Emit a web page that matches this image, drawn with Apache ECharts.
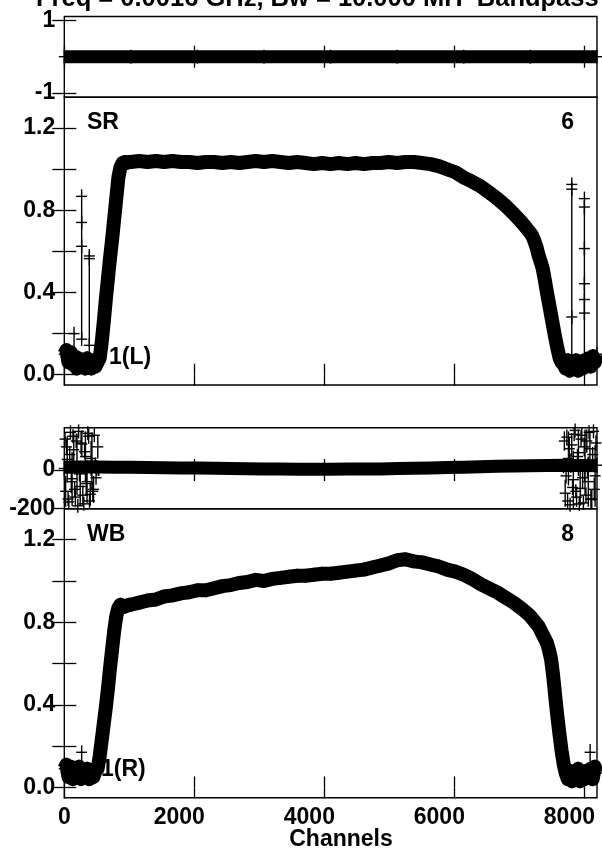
<!DOCTYPE html>
<html><head><meta charset="utf-8">
<script src="https://cdn.jsdelivr.net/npm/echarts@6/dist/echarts.min.js"></script>
<style>html,body{margin:0;padding:0;background:#fff}#c{width:602px;height:855px}</style>
</head><body><div id="c"></div>
<script>
// ---------- data ----------
const xTicks = [0, 2000, 4000, 6000, 8000];
const ampTicks = [0, 0.2, 0.4, 0.6, 0.8, 1.0, 1.2];
const ampLabels = [0, 0.4, 0.8, 1.2];
const topPhaseTicks = [-1, 1];
const wbPhaseTicks = [-200, 0];

const topCh = [0, 1024, 2048, 3072, 4096, 5120, 6144, 7168, 8192];
const topPhase = [0, 0, 0, 0, 0, 0, 0, 0, 0];

const srCh = [0,32,64,96,128,160,192,224,256,288,320,352,384,416,448,480,512,
  544,576,608,640,672,704,736,768,800,832,864,896,928,960,992,
  1024,1152,1280,1408,1536,1664,1792,1920,2048,2176,2304,2432,2560,2688,2816,2944,3072,3200,3328,3456,3584,3712,3840,3968,4096,4224,4352,4480,4608,4736,4864,4992,5120,5248,5376,5504,5632,5760,5888,6016,6144,6272,6400,6528,6656,6784,6912,7040,7168,
  7200,7232,7264,7296,7328,7360,7392,7424,7456,7488,7520,7552,7584,7616,7648,7680,
  7712,7744,7776,7808,7840,7872,7904,7936,7968,8000,8032,8064,8096,8128,8160,8192];
const srAmp = [0.10,0.12,0.06,0.11,0.05,0.09,0.03,0.08,0.04,0.07,0.03,0.08,0.04,0.03,0.07,0.04,0.06,
  0.08,0.16,0.26,0.37,0.47,0.57,0.66,0.76,0.86,0.96,1.01,1.03,1.035,1.03,1.035,
  1.035,1.04,1.035,1.04,1.035,1.04,1.035,1.035,1.03,1.035,1.035,1.03,1.035,1.03,1.035,1.04,1.035,1.04,1.035,1.03,1.035,1.03,1.025,1.03,1.025,1.03,1.025,1.03,1.025,1.03,1.03,1.035,1.03,1.035,1.035,1.03,1.025,1.015,1.0,0.985,0.96,0.94,0.918,0.888,0.858,0.823,0.783,0.74,0.69,
  0.675,0.65,0.62,0.58,0.55,0.515,0.46,0.40,0.345,0.29,0.235,0.18,0.13,0.085,0.06,0.05,
  0.03,0.07,0.02,0.06,0.03,0.07,0.02,0.06,0.03,0.07,0.04,0.08,0.04,0.09,0.06,0.10];
const srSpikeCh  = [150, 267, 267, 267, 267, 385, 385, 385, 7806, 7806, 7806, 8000, 8000, 8000, 8000, 8000, 8000];
const srSpikeVal = [0.20, 0.868, 0.741, 0.625, 0.173, 0.578, 0.565, 0.143, 0.926, 0.903, 0.281, 0.857, 0.816, 0.614, 0.443, 0.366, 0.30];
const srSpikeLo  = [0.13, 0.168, 0.741, 0.625, 0.173, 0.135, 0.565, 0.143, 0.087, 0.903, 0.281, 0.10, 0.816, 0.614, 0.443, 0.366, 0.30];
const srSpikeHi  = [0.20, 0.897, 0.741, 0.625, 0.173, 0.605, 0.565, 0.143, 0.937, 0.903, 0.281, 0.88, 0.816, 0.614, 0.443, 0.366, 0.30];

const wpCh = [0,256,512,768,1024,1280,1536,1792,2048,2304,2560,2816,3072,3328,3584,3840,4096,4352,4608,4864,5120,5376,5632,5888,6144,6400,6656,6912,7168,7424,7680,7936,8192];
const wpPhase = [15,16,16,15,14,13,12,11,10,9,8,7,6,5,4,4,4,5,5,6,8,9,11,13,15,17,19,21,22,24,25,24,22];
const wpNoiseCh  = [0,12,20,33,45,58,70,83,95,108,120,133,145,158,170,183,195,208,220,233,245,258,270,285,300,312,325,338,350,362,375,388,400,412,425,438,450,462,475,488,500,515,530,
  7680,7692,7705,7718,7730,7742,7755,7768,7780,7792,7805,7818,7830,7843,7857,7868,7880,7894,7908,7922,7935,7948,7960,7972,7985,7998,8010,8024,8037,8048,8060,8072,8085,8100,8114,8127,8140,8152,8165,8178,8192];
const wpNoiseVal = [8,160,-110,120,55,-150,-165,80,195,-60,-45,175,105,-100,-140,150,30,-185,200,-20,-85,140,135,-130,-175,95,70,-70,-60,190,175,-160,-125,60,45,-110,-100,180,25,-40,10,120,5,
  20,150,-120,-30,170,-160,60,110,-180,35,130,-90,-50,185,205,-110,-140,70,90,-175,-95,160,180,-40,-170,120,40,-130,150,10,-60,195,110,-150,-150,80,200,-100,-30,140,25];
const wpNoiseErr = [40,20,80,30,120,30,30,40,20,60,140,30,90,40,50,30,160,15,15,40,100,60,70,50,20,40,130,60,110,20,40,30,60,90,150,50,70,30,40,30,40,60,20,
  30,50,70,40,40,30,140,60,20,50,60,40,150,20,15,30,50,40,120,25,90,40,30,60,25,50,170,40,60,50,130,20,90,50,50,40,20,60,160,40,40];

const wbCh = [0,32,64,96,128,160,192,224,256,288,320,352,384,416,448,480,512,
  544,576,608,640,672,704,736,768,800,832,864,896,928,960,992,
  1024,1152,1280,1408,1536,1664,1792,1920,2048,2176,2304,2432,2560,2688,2816,2944,3072,3200,3328,3456,3584,3712,3840,3968,4096,4224,4352,4480,4608,4736,4864,4992,5120,5248,5376,5504,5632,5760,5888,6016,6144,6272,6400,6528,6656,6784,6912,7040,7168,7296,7424,
  7456,7488,7520,7552,7584,7616,7648,7680,7712,
  7744,7776,7808,7840,7872,7904,7936,7968,8000,8032,8064,8096,8128,8160,8192];
const wbAmp = [0.09,0.11,0.05,0.10,0.04,0.09,0.05,0.10,0.04,0.08,0.05,0.09,0.04,0.08,0.05,0.08,0.09,
  0.15,0.23,0.31,0.39,0.48,0.58,0.67,0.76,0.83,0.87,0.885,0.88,0.875,0.88,0.885,
  0.885,0.895,0.905,0.91,0.925,0.93,0.94,0.945,0.955,0.955,0.965,0.975,0.98,0.99,0.995,1.005,1.0,1.01,1.015,1.02,1.025,1.025,1.03,1.035,1.035,1.04,1.045,1.05,1.055,1.065,1.075,1.085,1.1,1.105,1.095,1.09,1.08,1.07,1.055,1.045,1.03,1.01,0.985,0.965,0.945,0.92,0.895,0.865,0.83,0.78,0.70,
  0.665,0.62,0.54,0.44,0.345,0.26,0.18,0.115,0.07,
  0.04,0.08,0.03,0.07,0.04,0.09,0.03,0.07,0.04,0.08,0.05,0.09,0.04,0.10,0.07];
const wbSpikeCh  = [267, 8088];
const wbSpikeVal = [0.17, 0.17];
const wbSpikeLo  = [0.09, 0.08];
const wbSpikeHi  = [0.20, 0.21];

// ---------- layout ----------
const FONT = "'Liberation Sans', Arial, Helvetica, sans-serif";
const grids = [
  {left: 64.3, right: 5, top: 16.5, height: 80.8},
  {left: 64.3, right: 5, top: 97.3, height: 287.7},
  {left: 64.3, right: 5, top: 427.7, height: 81},
  {left: 64.3, right: 5, top: 508.7, height: 289}
].map(g => Object.assign(g, {show: true, borderColor: '#000', borderWidth: 1.4, backgroundColor: 'rgba(0,0,0,0)', containLabel: false, outerBoundsMode: 'none'}));

const yRanges = [[-1.12, 1.11], [-0.05, 1.35], [-200, 219], [-0.05, 1.35]];
const yTickSets = [topPhaseTicks, ampTicks, wbPhaseTicks, ampTicks];
const yLabelSets = [topPhaseTicks, ampLabels, wbPhaseTicks, ampLabels];
const yFormat = [v => String(v), v => v.toFixed(1), v => String(v), v => v.toFixed(1)];

const labelStyle = {color: '#000', fontFamily: FONT, fontWeight: 'bold', fontSize: 23};
const tickStyle = {color: '#000', width: 1.3};

const xAxis = [], yAxis = [];
for (let i = 0; i < 4; i++) {
  ['bottom', 'top'].forEach(pos => {
    xAxis.push({
      gridIndex: i, type: 'value', position: pos, min: 0, max: 8194,
      axisLine: {show: false}, splitLine: {show: false},
      axisTick: {show: true, inside: true, length: 11, lineStyle: tickStyle, customValues: xTicks},
      axisLabel: Object.assign({
        show: (i === 3 && pos === 'bottom'), margin: 8, customValues: xTicks, hideOverlap: false,
        formatter: v => (String(v).length > 1 ? '{w|' + v + '}' : '{n|' + v + '}'),
        rich: {
          n: Object.assign({}, labelStyle),
          w: Object.assign({padding: [0, 30, 0, 0]}, labelStyle)
        }
      }, labelStyle)
    });
  });
  ['left', 'right'].forEach(pos => {
    yAxis.push({
      gridIndex: i, type: 'value', position: pos, min: yRanges[i][0], max: yRanges[i][1],
      axisLine: {show: false}, splitLine: {show: false},
      axisTick: {show: true, inside: true, length: 12, lineStyle: tickStyle, customValues: yTickSets[i]},
      axisLabel: Object.assign({show: pos === 'left', margin: 9, customValues: yLabelSets[i], formatter: yFormat[i]}, labelStyle)
    });
  });
}

function plusRender(params, api) {
  const x = api.value(0), v = api.value(1), lo = api.value(2), hi = api.value(3);
  const p = api.coord([x, v]);
  const pl = api.coord([x, lo]);
  const ph = api.coord([x, hi]);
  const top = Math.min(ph[1], p[1] - 7);
  const bot = Math.max(pl[1], p[1] + 7);
  const st = {stroke: '#000', lineWidth: 1.4};
  return {type: 'group', children: [
    {type: 'line', shape: {x1: p[0] - 5.5, y1: p[1], x2: p[0] + 5.5, y2: p[1]}, style: st},
    {type: 'line', shape: {x1: p[0], y1: top, x2: p[0], y2: bot}, style: st}
  ]};
}
function zip(ch, val) { return ch.map((c, k) => [c, val[k]]); }
function plusData(ch, val, lo, hi) { return ch.map((c, k) => [c, val[k], lo ? lo[k] : val[k], hi ? hi[k] : val[k]]); }
function lineSeries(i, data, w) {
  return {type: 'line', xAxisIndex: 2 * i, yAxisIndex: 2 * i, data, symbol: 'none', clip: false, silent: true,
    lineStyle: {color: '#000', width: w, join: 'round', cap: 'butt'}, animation: false};
}
function plusSeries(i, data) {
  return {type: 'custom', xAxisIndex: 2 * i, yAxisIndex: 2 * i, data, renderItem: plusRender, clip: false, silent: true, animation: false};
}

const series = [
  lineSeries(0, zip(topCh, topPhase), 13),
  plusSeries(0, plusData(topCh, topPhase)),
  lineSeries(1, zip(srCh, srAmp), 14),
  plusSeries(1, plusData(srCh, srAmp)),
  plusSeries(1, plusData(srSpikeCh, srSpikeVal, srSpikeLo, srSpikeHi)),
  lineSeries(2, zip(wpCh, wpPhase), 13),
  plusSeries(2, plusData(wpNoiseCh, wpNoiseVal, wpNoiseVal.map((v, k) => v - wpNoiseErr[k]), wpNoiseVal.map((v, k) => v + wpNoiseErr[k]))),
  lineSeries(3, zip(wbCh, wbAmp), 14),
  plusSeries(3, plusData(wbCh, wbAmp)),
  plusSeries(3, plusData(wbSpikeCh, wbSpikeVal, wbSpikeLo, wbSpikeHi))
];

function txt(text, x, y, align, size) {
  return {type: 'text', x, y, silent: true, z: 100,
    style: {text, fill: '#000', fontFamily: FONT, fontWeight: 'bold', fontSize: size || 23, align: align || 'left', verticalAlign: 'middle'}};
}

const chart = echarts.init(document.getElementById('c'), null, {renderer: 'canvas'});
chart.setOption({
  animation: false,
  backgroundColor: '#fff',
  grid: grids, xAxis, yAxis, series,
  graphic: [
    txt('Freq = 0.0016 GHz, Bw = 10.000 MH  Bandpass', 36, -1, 'left', 25.5),
    txt('SR', 87, 122.5),
    txt('6', 574, 122.5, 'right'),
    txt('1(L)', 109, 358),
    txt('WB', 87, 535),
    txt('8', 574, 535, 'right'),
    txt('1(R)', 101, 770),
    txt('Channels', 341, 840, 'center', 23)
  ]
});
</script></body></html>
